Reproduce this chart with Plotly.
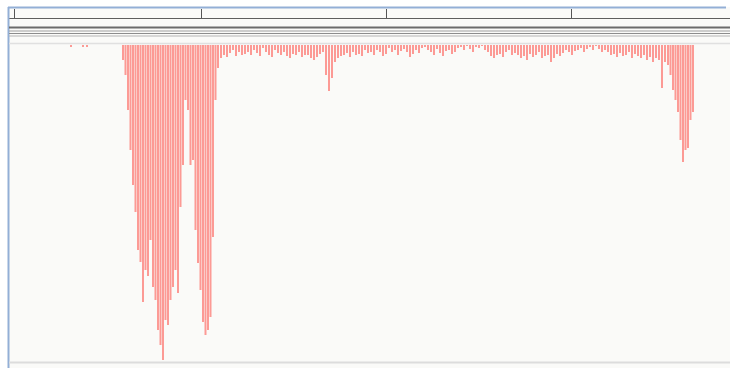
import plotly.graph_objects as go

# ---- data: read pile-up depth per column (position in track units, depth in rows) ----
tick_positions = [6, 193, 378, 563]

stray_pos = [63, 75, 79]
stray_depth = [2, 2, 2]

peak1_pos = [115, 117.5, 120, 122.5, 125, 127.5, 130, 132.5, 135, 137.5, 140, 142.5, 145,
             147.5, 150, 152.5, 155, 157.5, 160, 162.5, 165, 167.5, 170, 172.5, 175, 177.5,
             180, 182.5, 185, 187.5, 190, 192.5, 195, 197.5, 200, 202.5, 205, 207.5]
peak1_depth = [15, 30, 65, 105, 140, 167, 205, 217, 257, 225, 231, 195, 242, 255, 285, 300,
               315, 275, 280, 255, 242, 225, 248, 162, 120, 55, 65, 120, 115, 185, 218, 245,
               277, 290, 285, 272, 192, 55]

flat_start = 210
flat_step = 3
flat_depth = [23, 13, 10, 12, 8, 5, 11, 7, 10, 9,
              7, 10, 5, 8, 11, 3, 7, 10, 12, 5,
              8, 10, 7, 11, 13, 9, 10, 7, 12, 10,
              10, 13, 15, 12, 9, 7, 30, 46, 33, 17,
              13, 11, 10, 8, 12, 7, 10, 9, 11, 5,
              8, 7, 10, 5, 7, 11, 9, 3, 7, 5,
              10, 6, 4, 7, 12, 9, 5, 8, 3, 2,
              5, 7, 10, 4, 8, 11, 6, 5, 9, 7,
              3, 2, 5, 1, 4, 7, 2, 3, 1, 5,
              7, 11, 13, 10, 9, 12, 7, 5, 10, 8,
              10, 13, 11, 15, 9, 12, 10, 7, 13, 11,
              10, 17, 13, 9, 11, 8, 5, 7, 10, 6,
              5, 3, 7, 4, 2, 5, 1, 4, 7, 5,
              7, 10, 9, 12, 8, 11, 10, 7, 13, 9,
              11, 13, 10, 15, 12, 17, 13, 15, 43, 17,
              20]
flat_pos = [flat_start + flat_step * i for i in range(len(flat_depth))]

peak2_pos = [662.5, 665, 667.5, 670, 672.5, 675, 677.5, 680, 682.5, 685]
peak2_depth = [30, 45, 55, 67, 95, 117, 105, 103, 75, 67]

xs = stray_pos + peak1_pos + flat_pos + peak2_pos
ds = stray_depth + peak1_depth + flat_depth + peak2_depth

READ_COLOR = "#fc9a95"
BG = "#fafaf8"

fig = go.Figure()
fig.add_trace(go.Bar(x=xs, y=ds, base=0, width=2,
                     marker=dict(color=READ_COLOR, line=dict(width=0)),
                     hoverinfo="skip", showlegend=False))

W, H = 730, 368
L, R, T, B = 8, 0, 19, 6
PH = H - T - B
PW = W - L - R


def py(p):
    return (H - B - p) / PH


def px(p):
    return (p - L) / PW


shapes = []
# white outer margins (top and left)
shapes.append(dict(type="rect", xref="paper", yref="paper", x0=px(-2), x1=px(W + 2),
                   y0=py(7), y1=py(-2), fillcolor="white", line=dict(width=0), layer="above"))
shapes.append(dict(type="rect", xref="paper", yref="paper", x0=px(-2), x1=px(8),
                   y0=py(H + 2), y1=py(-2), fillcolor="white", line=dict(width=0), layer="above"))
# blue panel borders
shapes.append(dict(type="line", xref="paper", yref="paper", x0=px(8), x1=px(726),
                   y0=py(7.5), y1=py(7.5), line=dict(color="#93afd6", width=2), layer="above"))
shapes.append(dict(type="line", xref="paper", yref="paper", x0=px(8.5), x1=px(8.5),
                   y0=py(7), y1=py(H + 2), line=dict(color="#93afd6", width=2), layer="above"))
# header separator lines
for ypix, col, wid in [(27.5, "#6b6b6b", 2), (31, "#a0a0a0", 1), (33.5, "#8c8c8c", 1.2),
                       (36, "#b4b4b4", 1), (43.5, "#e0e0e0", 1.5), (362.5, "#dcdcdc", 2)]:
    shapes.append(dict(type="line", xref="paper", yref="paper", x0=px(9), x1=1,
                       y0=py(ypix), y1=py(ypix), line=dict(color=col, width=wid), layer="above"))

fig.update_layout(
    width=W, height=H,
    margin=dict(l=L, r=R, t=T, b=B, pad=0),
    paper_bgcolor=BG, plot_bgcolor=BG,
    barmode="overlay",
    shapes=shapes,
    xaxis=dict(range=[0, PW], side="top", showline=True, linecolor="#5e5e5e", linewidth=1,
               ticks="outside", ticklen=9, tickwidth=1, tickcolor="#555555",
               tickvals=tick_positions, showticklabels=False, showgrid=False, zeroline=False,
               fixedrange=True),
    yaxis=dict(range=[317, -26], visible=False, showgrid=False, zeroline=False, fixedrange=True),
)

fig.write_html("out.html", config={"displayModeBar": False},
               post_script="document.body.style.margin='0';document.body.style.overflow='hidden';")
